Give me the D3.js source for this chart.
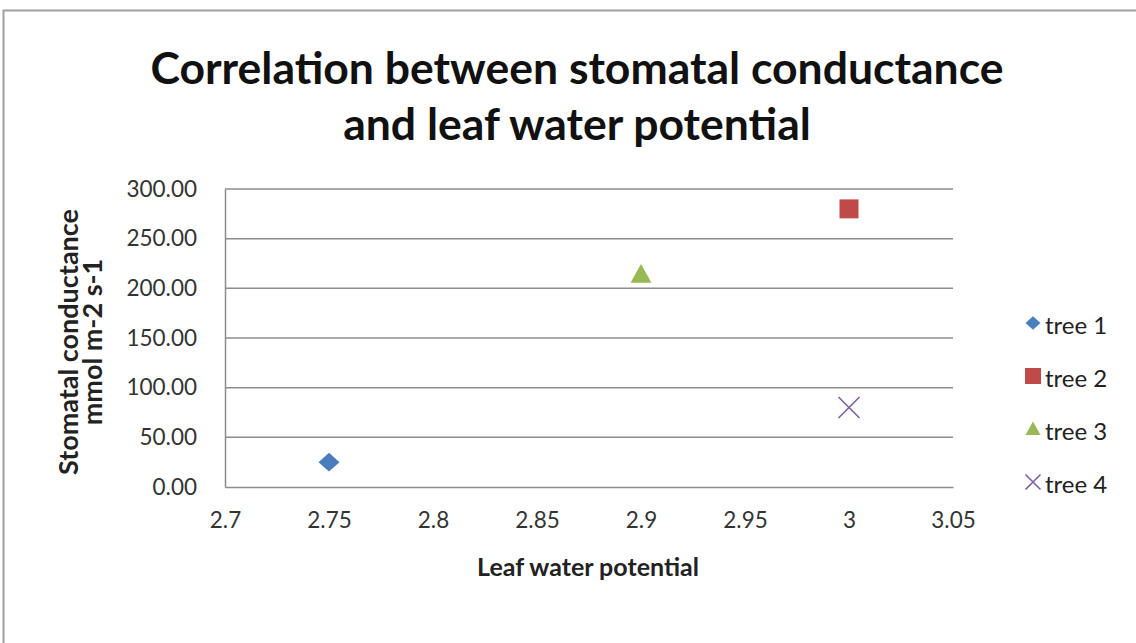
<!DOCTYPE html>
<html>
<head>
<meta charset="utf-8">
<script src="https://cdn.jsdelivr.net/npm/d3@7"></script>
<style>
  body { margin: 0; background: #fff; }
  text { font-family: Lato, "Open Sans", sans-serif; }
</style>
</head>
<body>
<div id="chart"></div>
<script>
// series data (x = leaf water potential, y = stomatal conductance)
var seriesNames = ["tree 1", "tree 2", "tree 3", "tree 4"];
var xValues = [2.75, 3, 2.9, 3];
var yValues = [25, 280, 214, 80];
var markerTypes = ["diamond", "square", "triangle", "cross"];
var colors = ["#4a7ebb", "#be4b48", "#98b954", "#7d60a0"];
var xTicks = [2.7, 2.75, 2.8, 2.85, 2.9, 2.95, 3, 3.05];
var yTicks = [0, 50, 100, 150, 200, 250, 300];
var titleLines = ["Correlation between stomatal conductance", "and leaf water potential"];
var yTitleLines = ["Stomatal conductance", "mmol m-2 s-1"];

var width = 1136, height = 643;
var svg = d3.select("#chart").append("svg")
    .attr("width", width)
    .attr("height", height);

// chart frame (only top and left edges show in the picture)
svg.append("path")
    .attr("d", "M3.5," + height + "V10.5H" + width)
    .attr("fill", "none")
    .attr("stroke", "#a0a0a0")
    .attr("stroke-width", 2);

var plot = {left: 225, right: 953, top: 189, bottom: 487};

var x = d3.scaleLinear().domain([2.7, 3.05]).range([plot.left, plot.right]);
var y = d3.scaleLinear().domain([0, 300]).range([plot.bottom, plot.top]);

//Title
svg.append("g").selectAll("text")
    .data(titleLines)
    .enter().append("text")
    .attr("x", 577)
    .attr("y", function (d, i) { return 84 + i * 56; })
    .attr("text-anchor", "middle")
    .attr("font-size", 44.5)
    .attr("font-weight", "bold")
    .attr("fill", "#111")
    .text(function (d) { return d; });

//Gridlines
svg.append("g").selectAll("line")
    .data(yTicks.filter(function (d) { return d > 0; }))
    .enter().append("line")
    .attr("x1", plot.left).attr("x2", plot.right)
    .attr("y1", function (d) { return y(d); })
    .attr("y2", function (d) { return y(d); })
    .attr("stroke", "#8c8c8c")
    .attr("stroke-width", 1.5);

//Axes
var yAxis = svg.append("g")
    .attr("transform", "translate(" + plot.left + ",0)")
    .call(d3.axisLeft(y).tickValues(yTicks).tickFormat(d3.format(".2f")).tickSize(0).tickPadding(28));
var xAxis = svg.append("g")
    .attr("transform", "translate(0," + plot.bottom + ")")
    .call(d3.axisBottom(x).tickValues(xTicks).tickFormat(function (d) { return String(+d.toFixed(2)); }).tickSize(0).tickPadding(25));

[xAxis, yAxis].forEach(function (ax) {
    ax.select(".domain").attr("stroke", "#8c8c8c").attr("stroke-width", 1.5);
    ax.selectAll("text")
        .attr("font-size", 22.5)
        .attr("fill", "#333")
        .attr("font-family", "Lato, 'Open Sans', sans-serif");
});

//Axis titles
svg.append("text")
    .attr("x", 588)
    .attr("y", 576)
    .attr("text-anchor", "middle")
    .attr("font-size", 25)
    .attr("font-weight", "bold")
    .attr("fill", "#222")
    .text("Leaf water potential");

svg.append("g")
    .attr("transform", "translate(78,342) rotate(-90)")
    .selectAll("text")
    .data(yTitleLines)
    .enter().append("text")
    .attr("x", 0)
    .attr("y", function (d, i) { return i * 24; })
    .attr("text-anchor", "middle")
    .attr("font-size", 27)
    .attr("font-weight", "bold")
    .attr("fill", "#222")
    .text(function (d) { return d; });

//Markers, s = half size
function markerPath(type, s) {
    if (type === "diamond") return "M0," + (-s * 0.9) + "L" + s + ",0L0," + (s * 0.9) + "L" + (-s) + ",0Z";
    if (type === "square") return "M" + (-s) + "," + (-s) + "H" + s + "V" + s + "H" + (-s) + "Z";
    if (type === "triangle") return "M0," + (-s) + "L" + s + "," + (s * 0.8) + "H" + (-s) + "Z";
    return "M" + (-s) + "," + (-s) + "L" + s + "," + s + "M" + (-s) + "," + s + "L" + s + "," + (-s);
}

function styleMarker(sel) {
    sel.attr("fill", function (i) { return markerTypes[i] === "cross" ? "none" : colors[i]; })
        .attr("stroke", function (i) { return markerTypes[i] === "cross" ? colors[i] : "none"; })
        .attr("stroke-width", 1.6);
}

svg.append("g").selectAll("path")
    .data(d3.range(seriesNames.length))
    .enter().append("path")
    .attr("transform", function (i) { return "translate(" + x(xValues[i]) + "," + y(yValues[i]) + ")"; })
    .attr("d", function (i) { return markerPath(markerTypes[i], markerTypes[i] === "square" ? 9.5 : 10.5); })
    .call(styleMarker);

//Legend
var legend = svg.append("g").selectAll("g")
    .data(d3.range(seriesNames.length))
    .enter().append("g")
    .attr("transform", function (i) { return "translate(1033," + (323 + i * 53) + ")"; });

legend.append("path")
    .attr("d", function (i) { return markerPath(markerTypes[i], markerTypes[i] === "square" ? 8 : 7.5); })
    .call(styleMarker);

legend.append("text")
    .attr("x", 12)
    .attr("y", 11)
    .attr("font-size", 24)
    .attr("fill", "#222")
    .text(function (i) { return seriesNames[i]; });
</script>
</body>
</html>
